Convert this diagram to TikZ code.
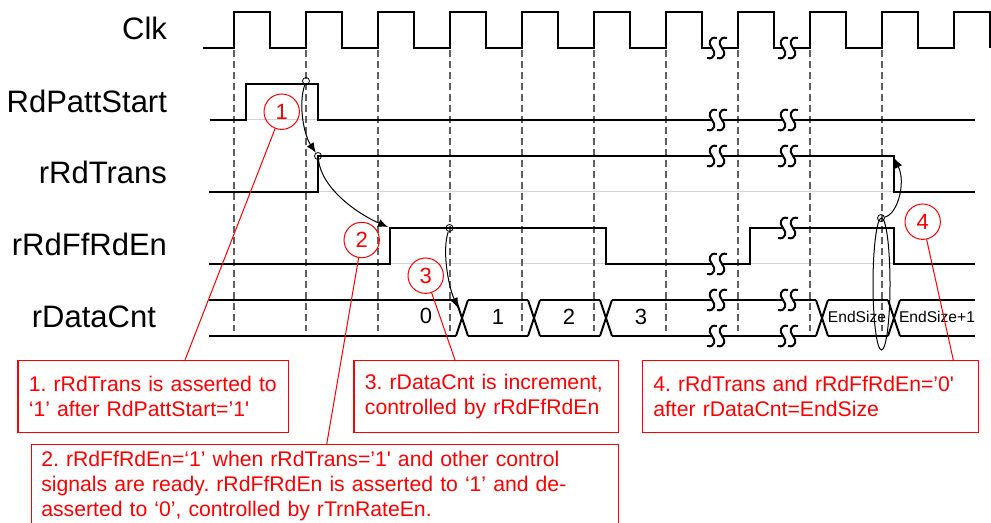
\documentclass[tikz,border=0pt]{standalone}
\usepackage{fontspec}
\setmainfont{Liberation Sans}
\usetikzlibrary{arrows.meta,shapes.geometric}
\frenchspacing
\hyphenpenalty=10000
\tikzset{
  sig/.style={line width=1pt,black},
  base/.style={line width=0.5pt,gray!35},
  tick/.style={line width=0.75pt,gray!75!black,dash pattern=on 3.5pt off 2pt},
  brk/.style={line width=1pt,black},
  lbl/.style={anchor=east,font=\fontsize{15.5}{18}\selectfont},
  val/.style={font=\fontsize{11}{13}\selectfont},
  valsm/.style={font=\fontsize{7.8}{9}\selectfont},
  pin/.style={circle,draw,line width=0.4pt,inner sep=0pt,minimum size=3.5pt},
  cause/.style={line width=0.5pt,-{Latex[length=5pt,width=4pt]}},
  num/.style={circle,draw=red,text=red,line width=0.5pt,minimum size=17.7pt,inner sep=0pt,font=\fontsize{11}{12}\selectfont},
  note/.style={draw=red,text=red,line width=0.6pt,anchor=north west,align=left,inner ysep=0pt,
    font=\fontsize{10.6}{12.5}\selectfont},
  lead/.style={red,line width=0.5pt}
}
\newcommand{\sigbreak}[2]{%
  \fill[white] (#1-4,#2-2) rectangle (#1+4,#2+2);
  \foreach \d in {-5,5}{
    \pgfmathsetmacro\c{#1+\d}
    \draw[brk] (\c+5,#2-10) .. controls (\c-3,#2-12) and (\c-4,#2-4) .. (\c,#2)
      .. controls (\c+4,#2+4) and (\c+3,#2+12) .. (\c-5,#2+10);
  }}

\begin{document}
\begin{tikzpicture}[x=0.5pt,y=-0.5pt]
\clip (0,0) rectangle (991,523);

\foreach \y in {120,192,264}
  \draw[base] (209,\y) -- (975,\y);
\foreach \x in {234,306,...,882}
  \draw[tick] (\x,50) -- (\x,331);

\draw[sig] (203,48) foreach \x in {234,306,...,954} { -- (\x,48) -- (\x,12) -- (\x+36,12) -- (\x+36,48) };
\draw[sig] (210,120) -- (246,120) -- (246,84) -- (318,84) -- (318,120) -- (975,120);
\draw[sig] (209,192) -- (318,192) -- (318,156) -- (894,156) -- (894,192) -- (975,192);
\draw[sig] (209,264) -- (390,264) -- (390,228) -- (606,228) -- (606,264) -- (750,264)
  -- (750,228) -- (894,228) -- (894,264) -- (975,264);
\foreach \a/\b in {209/456,468/528,540/600,612/816,828/888,900/975}
  \draw[sig] (\a,300) -- (\b,300) (\a,336) -- (\b,336);
\foreach \c in {462,534,606,822,894}
  \draw[sig] (\c-6,300) -- (\c+6,336) (\c-6,336) -- (\c+6,300);

\sigbreak{717}{48} \sigbreak{788}{48}
\sigbreak{717}{120} \sigbreak{788}{120}
\sigbreak{717}{156} \sigbreak{788}{156}
\sigbreak{717}{264} \sigbreak{788}{228}
\sigbreak{717}{300} \sigbreak{788}{300}
\sigbreak{717}{336} \sigbreak{788}{336}

\node[lbl] (lclk) at (174,28) {Clk};
\node[lbl] (lstart) at (174,101) {RdPattStart};
\node[lbl] (ltrans) at (174,172) {rRdTrans};
\node[lbl] (lffen) at (174,244) {rRdFfRdEn};
\node[lbl] (lcnt) at (163,317) {rDataCnt};

\node[val] (v0) at (426,316) {0};
\node[val] (v1) at (498,317) {1};
\node[val] (v2) at (569,317) {2};
\node[val] (v3) at (641,317) {3};
\node[valsm] (v4) at (857,317) {EndSize};
\node[valsm] (v5) at (937,317) {EndSize+1};

\node[pin] (p1) at (306,81) {};
\node[pin] (p2) at (318,156) {};
\node[pin] (p3) at (449.5,228) {};
\node[pin] (p4) at (881,218) {};
\coordinate (e2) at (388,227);
\coordinate (e3) at (458,308);
\coordinate (e4) at (894,158);
\draw[cause] (p1) .. controls (298,105) and (304,135) .. (p2);
\draw[cause] (p2) .. controls (322,190) and (360,215) .. (e2);
\draw[cause] (p3) .. controls (442,250) and (448,285) .. (e3);
\draw[cause] (p4) .. controls (898,214) and (906,182) .. (e4);
\node[ellipse,draw,line width=0.5pt,minimum width=8.5pt,minimum height=66pt,inner sep=0pt] (sel) at (881.5,284) {};

\node[num] (n1) at (281.7,111.7) {1};
\node[num] (n2) at (361.7,240) {2};
\node[num] (n3) at (425.7,275.7) {3};
\node[num] (n4) at (922.7,221.7) {4};

\node[note,inner xsep=5.5pt,text width=124.3pt,minimum height=35.8pt] (b1) at (17.3,360)
  {1. rRdTrans is asserted to\\‘1’ after RdPattStart=’1\textquotesingle};
\node[note,inner xsep=5.5pt,text width=121.2pt,minimum height=35.8pt] (b3) at (353.3,360)
  {3. rDataCnt is increment,\\controlled by rRdFfRdEn};
\node[note,inner xsep=5.5pt,text width=157pt,minimum height=35.8pt] (b4) at (641.7,360)
  {4. rRdTrans and rRdFfRdEn=’0\textquotesingle\\after rDataCnt=EndSize};
\node[note,inner xsep=5pt,text width=283.5pt,minimum height=40.7pt] (b2) at (30.7,444.3)
  {2. rRdFfRdEn=‘1’ when rRdTrans=’1\textquotesingle{} and other control\\signals are ready. rRdFfRdEn is asserted to ‘1’ and de-\\asserted to ‘0’, controlled by rTrnRateEn.};

\coordinate (t1) at (185,360);
\coordinate (t2) at (326.7,444.3);
\coordinate (t3) at (455,360);
\coordinate (t4) at (953.3,360);
\draw[lead] (n1) -- (t1);
\draw[lead] (n2) -- (t2);
\draw[lead] (n3) -- (t3);
\draw[lead] (n4) -- (t4);
\end{tikzpicture}
\end{document}
